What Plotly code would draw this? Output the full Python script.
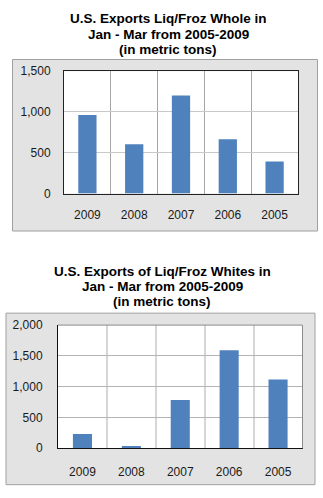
import plotly.graph_objects as go
from plotly.subplots import make_subplots

years = ["2009", "2008", "2007", "2006", "2005"]
whole_tons = [964, 603, 1202, 667, 393]
whites_tons = [232, 37, 784, 1590, 1116]

title_top_lines = ["U.S. Exports Liq/Froz Whole in", "Jan - Mar from 2005-2009", "(in metric tons)"]
title_bottom_lines = ["U.S. Exports of Liq/Froz Whites in", "Jan - Mar from 2005-2009", "(in metric tons)"]

W, H = 323, 498
BAR = "#4f81bd"
FONT = "Liberation Sans, Arial, sans-serif"

def px(x):
    return x / W

def py(y):
    return 1 - y / H

fig = make_subplots(rows=2, cols=1)
fig.add_trace(go.Bar(x=years, y=whole_tons, marker=dict(color=BAR, line=dict(width=0))), row=1, col=1)
fig.add_trace(go.Bar(x=years, y=whites_tons, marker=dict(color=BAR, line=dict(width=0))), row=2, col=1)

tickfont = dict(family=FONT, size=12, color="#1a1a1a")

fig.update_layout(
    width=W, height=H,
    margin=dict(l=0, r=0, t=0, b=0),
    paper_bgcolor="white",
    plot_bgcolor="white",
    showlegend=False,
    bargap=0.61,
    font=dict(family=FONT),
    xaxis=dict(domain=[px(64), px(298)], type="category", tickson="boundaries",
               showgrid=True, gridcolor="#a6a6a6", gridwidth=1, ticks="",
               showline=True, linecolor="#222222", linewidth=1, mirror=True,
               tickfont=tickfont, ticklabelstandoff=10, anchor="y", fixedrange=True),
    yaxis=dict(domain=[py(192), py(66)], range=[0, 1500], dtick=500, tickformat=",d",
               showgrid=True, gridcolor="#c8c8c8", gridwidth=1, ticks="", zeroline=False,
               showline=True, linecolor="#222222", linewidth=1, mirror=True,
               tickfont=tickfont, ticklabelstandoff=10, anchor="x"),
    xaxis2=dict(domain=[px(58), px(302.5)], type="category", tickson="boundaries",
                showgrid=True, gridcolor="#d6d6d6", gridwidth=1.5, ticks="",
                showline=True, linecolor="#111111", linewidth=1,
                tickfont=tickfont, ticklabelstandoff=12, anchor="y2"),
    yaxis2=dict(domain=[py(454), py(327.3)], range=[0, 2000], dtick=500, tickformat=",d",
                showgrid=True, gridcolor="#b4b4b4", gridwidth=1, ticks="", zeroline=False,
                showline=True, linecolor="#111111", linewidth=1,
                tickfont=tickfont, ticklabelstandoff=12, anchor="x2"),
)

shapes = [
    # outer gray panels
    dict(type="rect", xref="paper", yref="paper", x0=px(12.5), x1=px(317.5), y0=py(230.5), y1=py(54),
         fillcolor="#e3e3e3", line=dict(color="#a0a0a0", width=1), layer="below"),
    dict(type="rect", xref="paper", yref="paper", x0=px(6), x1=px(315), y0=py(491.5), y1=py(315),
         fillcolor="#e3e3e3", line=dict(color="#a0a0a0", width=1), layer="below"),
    # white plot areas
    dict(type="rect", xref="x domain", yref="y domain", x0=0, x1=1, y0=0, y1=1,
         fillcolor="white", line=dict(width=0), layer="below"),
    dict(type="rect", xref="x2 domain", yref="y2 domain", x0=0, x1=1, y0=0, y1=1,
         fillcolor="white", line=dict(width=0), layer="below"),
    # gray top/right border of bottom plot area
    dict(type="line", xref="x2 domain", yref="y2 domain", x0=0, x1=1, y0=1, y1=1,
         line=dict(color="#8a8a8a", width=1)),
    dict(type="line", xref="x2 domain", yref="y2 domain", x0=1, x1=1, y0=0, y1=1,
         line=dict(color="#8a8a8a", width=1)),
]
fig.update_layout(shapes=shapes)

tfont = dict(family=FONT, size=13.5, color="black")
for line, yc in zip(title_top_lines, [12, 28, 44]):
    fig.add_annotation(text="<b>" + line + "</b>", xref="paper", yref="paper", x=px(168), y=py(yc),
                       xanchor="center", yanchor="middle", showarrow=False, font=tfont)
for line, yc in zip(title_bottom_lines, [272, 287.5, 303]):
    fig.add_annotation(text="<b>" + line + "</b>", xref="paper", yref="paper", x=px(162), y=py(yc),
                       xanchor="center", yanchor="middle", showarrow=False, font=tfont)

fig.write_html("out.html")
